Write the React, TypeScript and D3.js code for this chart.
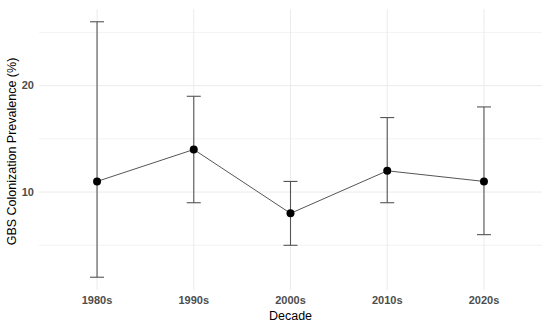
import React, { useEffect, useRef } from 'react';
import { select, scaleLinear, scalePoint, line } from 'd3';

const decades = ['1980s', '1990s', '2000s', '2010s', '2020s'];
const prevalence = [11, 14, 8, 12, 11];
const lower = [2, 9, 5, 9, 6];
const upper = [26, 19, 11, 17, 18];
const majorTicks = [10, 20];
const minorTicks = [5, 15, 25];

const W = 550;
const H = 326;
const panel = { left: 39, right: 542, top: 9, bottom: 290 };

export default function App() {
  const ref = useRef<SVGSVGElement>(null);

  useEffect(() => {
    const svg = select(ref.current);
    svg.selectAll('*').remove();

    // ggplot-style expansion: 5% continuous, 0.6 discrete
    const yMin = Math.min(...lower);
    const yMax = Math.max(...upper);
    const pad = (yMax - yMin) * 0.05;
    const y = scaleLinear()
      .domain([yMin - pad, yMax + pad])
      .range([panel.bottom, panel.top]);
    const step = (panel.right - panel.left) / (decades.length - 1 + 1.2);
    const x = scalePoint<string>()
      .domain(decades)
      .range([panel.left + 0.6 * step, panel.right - 0.6 * step]);

    const data = decades.map((d, i) => ({
      d,
      v: prevalence[i],
      lo: lower[i],
      hi: upper[i]
    }));

    const grid = svg.append('g');
    minorTicks.forEach(t => {
      grid.append('line')
        .attr('x1', panel.left).attr('x2', panel.right)
        .attr('y1', y(t)).attr('y2', y(t))
        .attr('stroke', '#ebebeb').attr('stroke-width', 0.6);
    });
    majorTicks.forEach(t => {
      grid.append('line')
        .attr('x1', panel.left).attr('x2', panel.right)
        .attr('y1', y(t)).attr('y2', y(t))
        .attr('stroke', '#ebebeb').attr('stroke-width', 1);
    });
    decades.forEach(d => {
      grid.append('line')
        .attr('x1', x(d)!).attr('x2', x(d)!)
        .attr('y1', panel.top).attr('y2', panel.bottom)
        .attr('stroke', '#ebebeb').attr('stroke-width', 1);
    });

    // error bars
    const cap = 7;
    const eb = svg.append('g').attr('stroke', '#555').attr('stroke-width', 1.1);
    data.forEach(p => {
      const cx = x(p.d)!;
      eb.append('line').attr('x1', cx).attr('x2', cx).attr('y1', y(p.lo)).attr('y2', y(p.hi));
      eb.append('line').attr('x1', cx - cap).attr('x2', cx + cap).attr('y1', y(p.lo)).attr('y2', y(p.lo));
      eb.append('line').attr('x1', cx - cap).attr('x2', cx + cap).attr('y1', y(p.hi)).attr('y2', y(p.hi));
    });

    const path = line<typeof data[0]>()
      .x(p => x(p.d)!)
      .y(p => y(p.v));
    svg.append('path')
      .datum(data)
      .attr('d', path)
      .attr('fill', 'none')
      .attr('stroke', '#555')
      .attr('stroke-width', 1);

    svg.append('g')
      .selectAll('circle')
      .data(data)
      .enter()
      .append('circle')
      .attr('cx', p => x(p.d)!)
      .attr('cy', p => y(p.v))
      .attr('r', 4)
      .attr('fill', '#000');

    const font = 'Liberation Sans, Arial, sans-serif';
    // axis labels
    majorTicks.forEach(t => {
      svg.append('text')
        .attr('x', 34).attr('y', y(t))
        .attr('dy', '0.35em')
        .attr('text-anchor', 'end')
        .attr('font-family', font).attr('font-size', 11).attr('font-weight', 'bold')
        .attr('fill', '#4d4d4d')
        .text(t);
    });
    decades.forEach(d => {
      svg.append('text')
        .attr('x', x(d)!).attr('y', 304)
        .attr('text-anchor', 'middle')
        .attr('font-family', font).attr('font-size', 11).attr('font-weight', 'bold')
        .attr('fill', '#4d4d4d')
        .text(d);
    });
    svg.append('text')
      .attr('x', (panel.left + panel.right) / 2).attr('y', 320)
      .attr('text-anchor', 'middle')
      .attr('font-family', font).attr('font-size', 12.5)
      .attr('fill', '#000')
      .text('Decade');
    svg.append('text')
      .attr('transform', `translate(16, ${(panel.top + panel.bottom) / 2 + 2}) rotate(-90)`)
      .attr('text-anchor', 'middle')
      .attr('font-family', font).attr('font-size', 12.5)
      .attr('fill', '#000')
      .text('GBS Colonization Prevalence (%)');
  }, []);

  return (
    <svg
      ref={ref}
      width={W}
      height={H}
      style={{ position: 'absolute', left: 0, top: 0, background: '#fff' }}
    />
  );
}
